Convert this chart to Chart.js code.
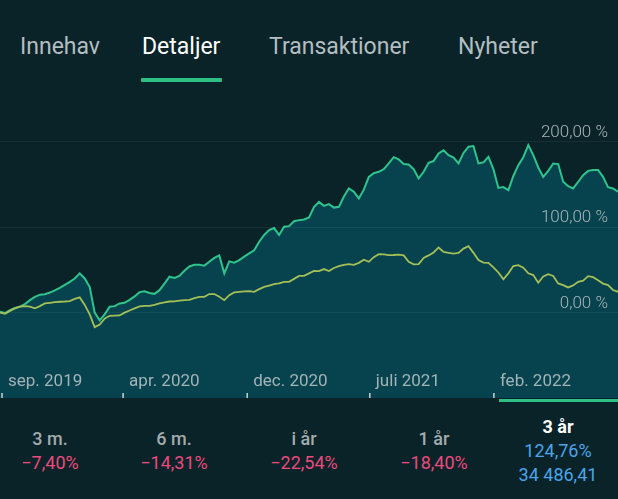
<!DOCTYPE html>
<html>
<head>
<meta charset="utf-8">
<script src="https://cdn.jsdelivr.net/npm/chart.js@4"></script>
<style>
  html, body { margin: 0; padding: 0; }
  body { width: 618px; height: 499px; background: #0a2329; position: relative; overflow: hidden; font-family: Roboto, "Noto Sans", sans-serif; }
  .tab { position: absolute; top: 32px; line-height: 30px; font-size: 23px; color: #b3bec0; white-space: nowrap; }
  .tab.active { color: #ffffff; }
  #tabLine { position: absolute; left: 141px; top: 78px; width: 81px; height: 4px; background: #2ebf86; border-radius: 1px; }
  #chartBox { position: absolute; left: 0; top: 100px; width: 618px; height: 298px; }
  #periodLine { position: absolute; left: 499px; top: 399px; width: 119px; height: 3px; background: #2ebf86; }
  .stat { position: absolute; width: 120px; margin-left: -60px; text-align: center; white-space: nowrap; }
  .stat div { font-size: 18px; line-height: 24px; }
  .stat .lbl { font-weight: 500; color: #a3abad; }
  .stat .neg { color: #ea4a7c; }
  .stat .sel { font-weight: 700; color: #ffffff; }
  .stat .pos { color: #4aa5ea; }
</style>
</head>
<body>
<div class="tab" style="left:20px">Innehav</div>
<div class="tab active" style="left:142px">Detaljer</div>
<div class="tab" style="left:269px">Transaktioner</div>
<div class="tab" style="left:458px">Nyheter</div>
<div id="tabLine"></div>

<div id="chartBox"><canvas id="chart" width="618" height="298"></canvas></div>
<div id="periodLine"></div>

<div class="stat" style="left:50px;top:427px"><div class="lbl">3 m.</div><div class="neg">−7,40%</div></div>
<div class="stat" style="left:174px;top:427px"><div class="lbl">6 m.</div><div class="neg">−14,31%</div></div>
<div class="stat" style="left:304px;top:427px"><div class="lbl">i år</div><div class="neg">−22,54%</div></div>
<div class="stat" style="left:434px;top:427px"><div class="lbl">1 år</div><div class="neg">−18,40%</div></div>
<div class="stat" style="left:558px;top:415px"><div class="sel">3 år</div><div class="pos">124,76%</div><div class="pos">34 486,41</div></div>

<script>
// portfolio return, % (green)
const portfolio = [
  1, -0.5, 3, 5.6, 7, 10, 14.6, 18.5, 21, 21.5,
  23.5, 26, 29, 32.5, 36, 40, 46, 40, 30, 0,
  -9, -2, 7, 7.6, 10.7, 11.5, 15, 19, 24, 25,
  23, 22, 26.3, 34, 42, 40.5, 43, 49, 54, 56,
  56, 55, 59.5, 64, 67, 46, 60, 58.5, 61.5, 65.5,
  69.3, 73, 83, 91, 96.6, 99, 91, 100.5, 101.3, 107,
  108.3, 109, 111.4, 123.5, 129.7, 125, 127, 123, 123.9, 136,
  145.4, 141.5, 133.7, 144, 159, 163.3, 164.9, 168, 174.7, 182,
  179.4, 174, 173.5, 168, 157.1, 164.9, 175.4, 177.5, 186.4, 190,
  184.4, 181.5, 174.7, 187, 194.2, 195, 174.7, 176, 182.4, 168,
  146, 147, 143.4, 160, 172.7, 182, 196.1, 184.4, 170, 159,
  166, 174.7, 174, 153.2, 148, 145.4, 153, 161, 166, 166.9,
  167, 159, 147, 145.4, 141.5
];

// index return, % (yellow)
const benchmark = [
  0, -1.5, 2, 5, 7, 7.6, 7, 5, 7.6, 10.7,
  11.5, 12.3, 12.7, 13, 13.5, 16, 17.8, 9, -2, -17,
  -14, -7, -3.7, -3.5, -3.3, 0, 2.5, 5, 7.3, 8,
  7.8, 9, 10.8, 12, 13, 13.2, 14, 14.6, 15, 17,
  18.5, 18.5, 21.7, 21.7, 18.5, 14.6, 20.5, 23.6, 24.4, 24.8,
  25.2, 24.4, 27.5, 30.2, 31.5, 33.4, 34.2, 36, 36, 39.5,
  43, 43, 46, 48.8, 48.6, 51, 48.6, 52.3, 54.4, 56,
  56.8, 56, 58.3, 62, 59.5, 65, 68.5, 68.3, 67.3, 67.5,
  68, 67, 59.5, 56.6, 56.8, 64, 67, 70.5, 76.3, 71,
  70, 69, 70, 75, 77.9, 70, 61.5, 58.5, 58.3, 53,
  47, 39, 46, 54.6, 55.6, 52.7, 46, 44, 35, 42.4,
  45, 43, 34.2, 32.2, 29.5, 31.8, 36, 37.5, 42.7, 41.5,
  38, 34, 32.2, 26.5, 24.4
];

const xTickLabels = ['sep. 2019', 'apr. 2020', 'dec. 2020', 'juli 2021', 'feb. 2022'];
const xTickAt = [0.4, 24.7, 49.6, 74.2, 99.1]; // position on the point index axis
const yTicks = [0, 100, 200];

const labels = portfolio.map((_, i) => String(i));

// x axis labels sit inside the filled area, with small tick marks at the bottom
const xAxisInside = {
  id: 'xAxisInside',
  afterDatasetsDraw(chart) {
    const { ctx, chartArea, scales } = chart;
    ctx.save();
    ctx.font = '17px Roboto, sans-serif';
    ctx.fillStyle = '#a3b3b6';
    ctx.textBaseline = 'middle';
    ctx.textAlign = 'left';
    ctx.strokeStyle = '#c9d3d5';
    ctx.lineWidth = 1.5;
    xTickLabels.forEach((txt, i) => {
      const x = scales.x.getPixelForValue(xTickAt[i]);
      ctx.fillText(txt, x + 6, chartArea.bottom - 16);
      ctx.beginPath();
      ctx.moveTo(x, chartArea.bottom - 5);
      ctx.lineTo(x, chartArea.bottom);
      ctx.stroke();
    });
    ctx.restore();
  }
};

new Chart(document.getElementById('chart'), {
  type: 'line',
  data: {
    labels: labels,
    datasets: [
      {
        label: 'Portfölj',
        data: portfolio,
        borderColor: '#2ec48c',
        borderWidth: 2,
        backgroundColor: '#06434e',
        fill: 'start',
        pointRadius: 0,
        tension: 0,
        order: 2
      },
      {
        label: 'Index',
        data: benchmark,
        borderColor: '#a4bf57',
        borderWidth: 1.8,
        fill: false,
        pointRadius: 0,
        tension: 0,
        order: 1
      }
    ]
  },
  options: {
    responsive: false,
    devicePixelRatio: 1,
    animation: false,
    layout: { padding: 0, autoPadding: false },
    plugins: { legend: { display: false }, tooltip: { enabled: false } },
    scales: {
      x: { display: false, offset: false },
      y: {
        position: 'right',
        min: -100,
        max: 249,
        afterBuildTicks: (s) => { s.ticks = yTicks.map(v => ({ value: v })); },
        afterFit: (s) => { s.width = 0; s.paddingTop = 0; s.paddingBottom = 0; },
        border: { display: false },
        grid: { color: 'rgba(255,255,255,0.055)', drawTicks: false, z: 1 },
        ticks: {
          mirror: true,
          padding: -10,
          labelOffset: -9,
          z: 1,
          color: '#a9b5b7',
          font: { family: 'Roboto', size: 17, weight: 300 },
          callback: (v) => v.toFixed(2).replace('.', ',') + ' %'
        }
      }
    }
  },
  plugins: [xAxisInside]
});
</script>
</body>
</html>
